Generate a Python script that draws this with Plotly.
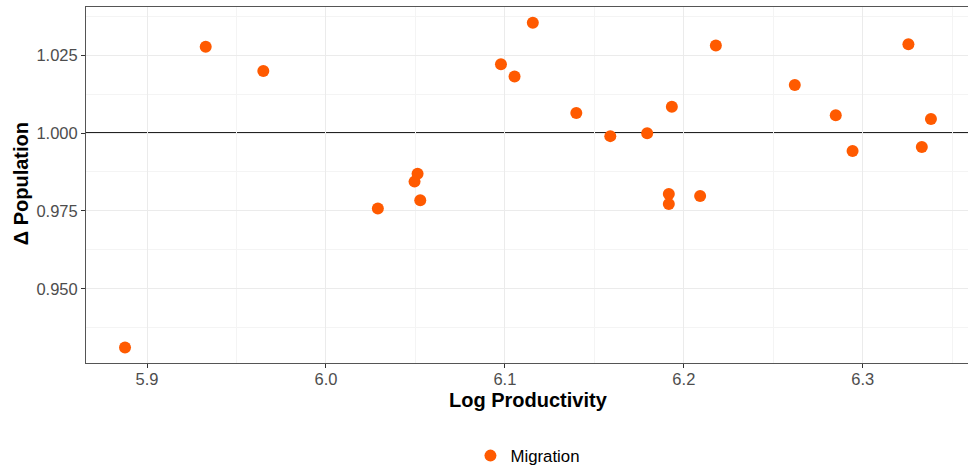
import plotly.graph_objects as go

# Log productivity vs. change in population (migration scenario)
log_productivity = [5.8877, 5.9328, 5.9650, 6.0290, 6.0495, 6.0512, 6.0527, 6.0978,
                    6.1054, 6.1156, 6.1399, 6.1589, 6.1795, 6.1916, 6.1916, 6.1933,
                    6.2091, 6.2179, 6.2620, 6.2849, 6.2943, 6.3255, 6.3330, 6.3381]
delta_population = [0.9312, 1.0277, 1.0199, 0.9758, 0.9844, 0.9869, 0.9784, 1.0221,
                    1.0181, 1.0354, 1.0064, 0.9990, 0.9999, 0.9804, 0.9772, 1.0084,
                    0.9798, 1.0281, 1.0154, 1.0057, 0.9942, 1.0285, 0.9955, 1.0045]
series_name = "Migration"

x_tick_vals = [5.9, 6.0, 6.1, 6.2, 6.3]
x_tick_text = ["5.9", "6.0", "6.1", "6.2", "6.3"]
y_tick_vals = [0.950, 0.975, 1.000, 1.025]
y_tick_text = ["0.950", "0.975", "1.000", "1.025"]
reference_level = 1.0

POINT_COLOR = "#FF5A00"
FONT = "Liberation Sans, Arial, sans-serif"
TICK_FONT = dict(family=FONT, size=16.5, color="#4D4D4D")
GRID_MAJOR = "#EBEBEB"
GRID_MINOR = "#F4F4F4"
BORDER = "#555555"

fig = go.Figure()
fig.add_trace(go.Scatter(
    x=log_productivity, y=delta_population, mode="markers", name=series_name,
    marker=dict(color=POINT_COLOR, size=12, line=dict(width=0)),
    showlegend=True,
))

# horizontal reference line at 1.0, above the grid but under the points
fig.add_shape(type="line", xref="paper", x0=0, x1=1, yref="y",
              y0=reference_level, y1=reference_level,
              line=dict(color="#222222", width=2.2), layer="between")

fig.update_xaxes(
    range=[5.8659, 6.3588], tickvals=x_tick_vals, ticktext=x_tick_text,
    tickfont=TICK_FONT, ticks="outside", ticklen=4, tickcolor="#333333", tickwidth=1,
    ticklabelstandoff=-3,
    showgrid=True, gridcolor=GRID_MAJOR, gridwidth=1.1,
    minor=dict(dtick=0.05, tick0=5.85, showgrid=True, gridcolor=GRID_MINOR, gridwidth=0.6, ticks=""),
    showline=True, linecolor=BORDER, linewidth=1, mirror=True, zeroline=False,
)
fig.update_yaxes(
    range=[0.92619, 1.04044], tickvals=y_tick_vals, ticktext=y_tick_text,
    tickfont=TICK_FONT, ticks="outside", ticklen=4, tickcolor="#333333", tickwidth=1,
    showgrid=True, gridcolor=GRID_MAJOR, gridwidth=1.1,
    minor=dict(dtick=0.0125, tick0=0.9375, showgrid=True, gridcolor=GRID_MINOR, gridwidth=0.6, ticks=""),
    showline=True, linecolor=BORDER, linewidth=1, mirror=False, zeroline=False,
)

fig.add_annotation(text="<b>Log Productivity</b>", xref="paper", yref="paper",
                   x=0.5013, y=-0.105, xanchor="center", yanchor="middle",
                   showarrow=False, font=dict(family=FONT, size=20, color="#000000"))
fig.add_annotation(text="<b>Δ Population</b>", xref="paper", yref="paper",
                   x=-0.0733, y=0.503, xanchor="center", yanchor="middle", textangle=-90,
                   showarrow=False, font=dict(family=FONT, size=20, color="#000000"))

fig.update_layout(
    width=968, height=465,
    margin=dict(l=86, r=0, t=7, b=102, autoexpand=False),
    paper_bgcolor="white", plot_bgcolor="white",
    legend=dict(orientation="h", xref="container", yref="container",
                x=0.4860, xanchor="left", y=0.02, yanchor="middle",
                font=dict(family=FONT, size=16.8, color="#000000"), bgcolor="rgba(0,0,0,0)"),
)

fig.write_html("out.html")
